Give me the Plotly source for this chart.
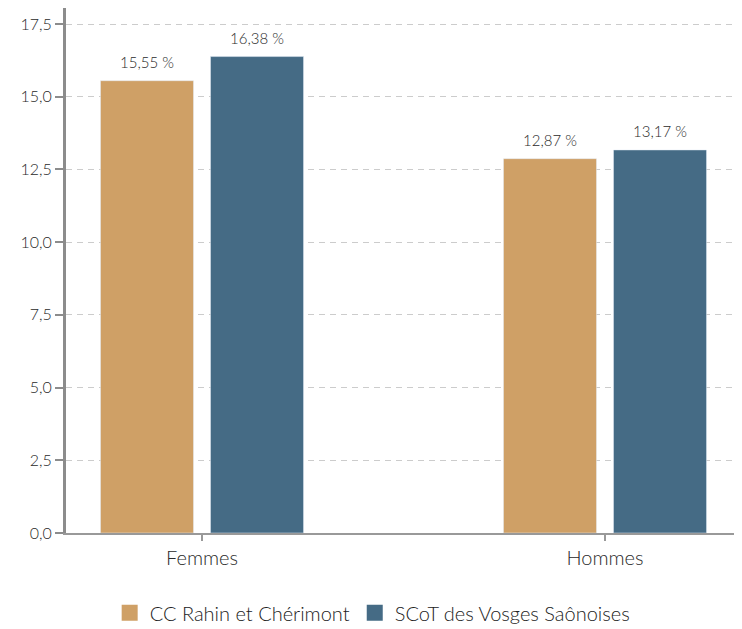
import plotly.graph_objects as go

categories = ["Femmes", "Hommes"]
series_names = ["CC Rahin et Chérimont", "SCoT des Vosges Saônoises"]
cc_values = [15.55, 12.87]
scot_values = [16.38, 13.17]
colors = ["#CFA066", "#456B85"]

FONT = "Lato, Open Sans, sans-serif"

fig = go.Figure()
for name, vals, col in zip(series_names, [cc_values, scot_values], colors):
    fig.add_trace(go.Bar(
        x=categories, y=vals, name=name, marker_color=col, showlegend=False,
    ))
    # legend entry with a larger square swatch
    fig.add_trace(go.Scatter(
        x=[None], y=[None], mode="markers", name=name,
        marker=dict(symbol="square", size=22, color=col),
    ))

# value labels above bars
slot_shift = 55
for vals, sh in zip([cc_values, scot_values], [-slot_shift, slot_shift]):
    for cat, v in zip(categories, vals):
        fig.add_annotation(
            x=cat, y=v, text=f"{v:.2f} %".replace(".", ","), showarrow=False,
            xshift=sh, yshift=8, yanchor="bottom",
            font=dict(size=15, color="#2A2A2A", family=FONT, weight=300),
        )

fig.update_layout(
    width=742, height=629,
    margin=dict(l=58, r=10, t=0, b=104),
    paper_bgcolor="white", plot_bgcolor="white",
    separators=", ",
    font=dict(family=FONT, size=16, color="#2A2A2A", weight=300),
    barmode="group", bargap=0.454, bargroupgap=0.1545,
    showlegend=True,
    legend=dict(orientation="h", x=0.455, xanchor="center", y=-0.152, yanchor="middle",
                font=dict(size=20, color="#222222", family=FONT, weight=300),
                itemsizing="trace", traceorder="normal"),
    xaxis=dict(range=[-0.3375, 1.335], showline=True, linecolor="#999999", linewidth=2,
               ticks="outside", ticklen=6, tickcolor="#999999", tickwidth=2,
               tickfont=dict(size=20, color="#2A2A2A"), showgrid=False),
    yaxis=dict(range=[0, 18.05], dtick=2.5, tickformat=".1f",
               showline=True, linecolor="#8C8C8C", linewidth=3,
               ticks="outside", ticklen=8, tickcolor="#8C8C8C", tickwidth=2,
               gridcolor="#CCCCCC", griddash="6px,5px", gridwidth=1,
               zeroline=False, tickfont=dict(size=16, color="#2A2A2A")),
)

fig.write_html("out.html")
